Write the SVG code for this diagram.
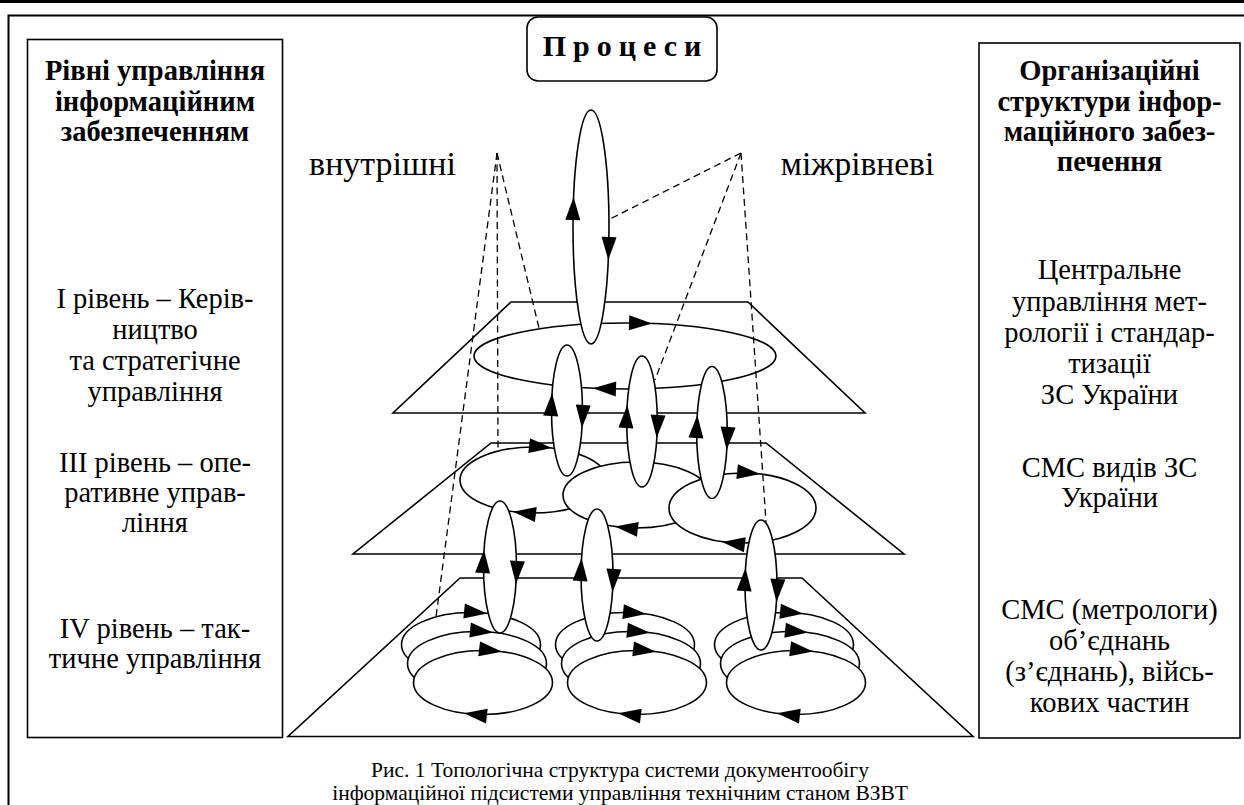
<svg xmlns="http://www.w3.org/2000/svg" width="1244" height="805" viewBox="0 0 1244 805">
<style>
.ln{fill:none;stroke:#000;stroke-width:1.6}
.wf{fill:#fff;stroke:#000;stroke-width:1.6}
.ds{fill:none;stroke:#000;stroke-width:1.3;stroke-dasharray:7 4.5}
.t{font-family:"Liberation Serif","Times New Roman",serif;font-size:28.5px;fill:#000;text-anchor:middle}
.b{font-weight:bold}
.lab{font-size:33.5px}
.cap{font-size:21.5px}
</style>
<defs>
<path id="ah" d="M0,0 L-23,-7.5 L-23,7.5 Z" fill="#000"/>
</defs>
<g id="frame">
<line x1="0" y1="1.5" x2="1244" y2="1.5" stroke="#000" stroke-width="3"/>
<path d="M8.5,805 V15.5 H1244" fill="none" stroke="#000" stroke-width="2"/>
</g>
<g id="levels-panel">
<rect x="27.5" y="39.5" width="255" height="698" class="ln"/>
<text class="t b" x="155"><tspan x="155" y="80">Рівні управління</tspan><tspan x="155" y="111">інформаційним</tspan><tspan x="155" y="141">забезпеченням</tspan></text>
<text class="t" x="155"><tspan x="155" y="308">I рівень – Керів-</tspan><tspan x="155" y="339">ництво</tspan><tspan x="155" y="370">та стратегічне</tspan><tspan x="155" y="401">управління</tspan></text>
<text class="t" x="155"><tspan x="155" y="472">III рівень – опе-</tspan><tspan x="155" y="502">ративне управ-</tspan><tspan x="155" y="532">ління</tspan></text>
<text class="t" x="155"><tspan x="155" y="638">IV рівень – так-</tspan><tspan x="155" y="668">тичне управління</tspan></text>
</g>
<g id="org-panel">
<rect x="979" y="43" width="261" height="695" class="ln"/>
<text class="t b" x="1109.5"><tspan x="1109.5" y="80">Організаційні</tspan><tspan x="1109.5" y="111">структури інфор-</tspan><tspan x="1109.5" y="141">маційного забез-</tspan><tspan x="1109.5" y="171">печення</tspan></text>
<text class="t" x="1109.5"><tspan x="1109.5" y="279">Центральне</tspan><tspan x="1109.5" y="311">управління мет-</tspan><tspan x="1109.5" y="342">рології і стандар-</tspan><tspan x="1109.5" y="373">тизації</tspan><tspan x="1109.5" y="404">ЗС України</tspan></text>
<text class="t" x="1109.5"><tspan x="1109.5" y="477">СМС видів ЗС</tspan><tspan x="1109.5" y="507">України</tspan></text>
<text class="t" x="1109.5"><tspan x="1109.5" y="619">СМС (метрологи)</tspan><tspan x="1109.5" y="650">об’єднань</tspan><tspan x="1109.5" y="681">(з’єднань), війсь-</tspan><tspan x="1109.5" y="712">кових частин</tspan></text>
</g>
<g id="processes">
<rect x="527" y="17" width="190" height="64" rx="11" class="ln"/>
<text class="t b" x="625.5" y="56" style="font-size:30px;letter-spacing:7px">Процеси</text>
</g>
<g id="labels">
<text class="t lab" x="382.5" y="175" style="font-size:34px">внутрішні</text>
<text class="t lab" x="857.5" y="175">міжрівневі</text>
</g>
<g id="planes">
<polygon points="511,302 748,302 865,413 393,413" class="ln"/>
<polygon points="491,443 766,443 904,554 353,554" class="ln"/>
<polygon points="460,578 802,578 973,736.5 288,736.5" class="ln"/>
</g>
<g id="level1-ellipse">
<ellipse cx="625" cy="356" rx="151" ry="33" class="wf"/>
</g>
<g id="level2-ellipses">
<ellipse cx="533.5" cy="480" rx="73.5" ry="33" class="wf"/>
<ellipse cx="636.5" cy="495" rx="73.5" ry="33" class="wf"/>
<ellipse cx="742.5" cy="508" rx="73.5" ry="35" class="wf"/>
</g>
<g id="level3-stack-left">
<ellipse cx="471" cy="644.5" rx="69.5" ry="32" class="wf"/>
<ellipse cx="477" cy="663.5" rx="69.5" ry="32" class="wf"/>
<ellipse cx="483" cy="682.5" rx="69.5" ry="32" class="wf"/>
</g>
<g id="level3-stack-middle">
<ellipse cx="625" cy="644.5" rx="69.5" ry="32" class="wf"/>
<ellipse cx="631" cy="663.5" rx="69.5" ry="32" class="wf"/>
<ellipse cx="637" cy="682.5" rx="69.5" ry="32" class="wf"/>
</g>
<g id="level3-stack-right">
<ellipse cx="784" cy="644.5" rx="69.5" ry="32" class="wf"/>
<ellipse cx="790" cy="663.5" rx="69.5" ry="32" class="wf"/>
<ellipse cx="796" cy="682.5" rx="69.5" ry="32" class="wf"/>
</g>
<g id="vertical-loops">
<ellipse cx="591" cy="227" rx="18" ry="117" class="wf"/>
<ellipse cx="567" cy="410.5" rx="15.5" ry="65.5" class="wf"/>
<ellipse cx="642" cy="421.5" rx="15.3" ry="65.5" class="wf"/>
<ellipse cx="712" cy="432.5" rx="15.3" ry="66" class="wf"/>
<ellipse cx="500" cy="567" rx="16.5" ry="66" class="wf"/>
<ellipse cx="597" cy="575" rx="16" ry="66" class="wf"/>
<ellipse cx="761" cy="585" rx="16" ry="65" class="wf"/>
</g>
<g id="connectors">
<g id="arrowheads">
<use href="#ah" transform="translate(573.6,197) rotate(-88)"/>
<use href="#ah" transform="translate(608.3,260) rotate(92)"/>
<use href="#ah" transform="translate(552.1,393) rotate(-86.5)"/>
<use href="#ah" transform="translate(581.9,428) rotate(93.5)"/>
<use href="#ah" transform="translate(627.3,405) rotate(-86.5)"/>
<use href="#ah" transform="translate(656.7,438) rotate(93.5)"/>
<use href="#ah" transform="translate(697.3,415) rotate(-86.5)"/>
<use href="#ah" transform="translate(726.7,450) rotate(93.5)"/>
<use href="#ah" transform="translate(484,550) rotate(-86.5)"/>
<use href="#ah" transform="translate(516,584) rotate(93.5)"/>
<use href="#ah" transform="translate(581.5,558) rotate(-86.5)"/>
<use href="#ah" transform="translate(612.5,592) rotate(93.5)"/>
<use href="#ah" transform="translate(745.5,568) rotate(-86.5)"/>
<use href="#ah" transform="translate(776.5,602) rotate(93.5)"/>
<use href="#ah" transform="translate(652,323.5) rotate(2)"/>
<use href="#ah" transform="translate(593,388.3) rotate(182)"/>
<use href="#ah" transform="translate(552,448) rotate(6)"/>
<use href="#ah" transform="translate(513,511.7) rotate(187)"/>
<use href="#ah" transform="translate(615,526.6) rotate(187)"/>
<use href="#ah" transform="translate(760,474) rotate(6)"/>
<use href="#ah" transform="translate(722,542) rotate(187)"/>
<use href="#ah" transform="translate(487,613.4) rotate(6)"/>
<use href="#ah" transform="translate(493,632.4) rotate(6)"/>
<use href="#ah" transform="translate(502,651.7) rotate(7)"/>
<use href="#ah" transform="translate(464,713.3) rotate(187)"/>
<use href="#ah" transform="translate(646,614) rotate(6)"/>
<use href="#ah" transform="translate(650,632.7) rotate(6)"/>
<use href="#ah" transform="translate(656,651.7) rotate(7)"/>
<use href="#ah" transform="translate(618,713.3) rotate(187)"/>
<use href="#ah" transform="translate(803,613.7) rotate(6)"/>
<use href="#ah" transform="translate(808,632.6) rotate(6)"/>
<use href="#ah" transform="translate(813,651.5) rotate(7)"/>
<use href="#ah" transform="translate(777,713.3) rotate(187)"/>
</g>
<g id="dashed-links">
<line x1="497" y1="153" x2="436" y2="617" class="ds"/>
<line x1="497" y1="153" x2="498" y2="451" class="ds"/>
<line x1="497" y1="153" x2="539" y2="328" class="ds"/>
<line x1="741" y1="153" x2="610" y2="219" class="ds"/>
<line x1="741" y1="153" x2="655" y2="380" class="ds"/>
<line x1="741" y1="153" x2="766" y2="522" class="ds"/>
</g>
</g>
<g id="caption">
<text class="t cap" x="620"><tspan x="620" y="777">Рис. 1 Топологічна структура системи документообігу</tspan><tspan x="620" y="799.5">інформаційної підсистеми управління технічним станом ВЗВТ</tspan></text>
</g>
</svg>
